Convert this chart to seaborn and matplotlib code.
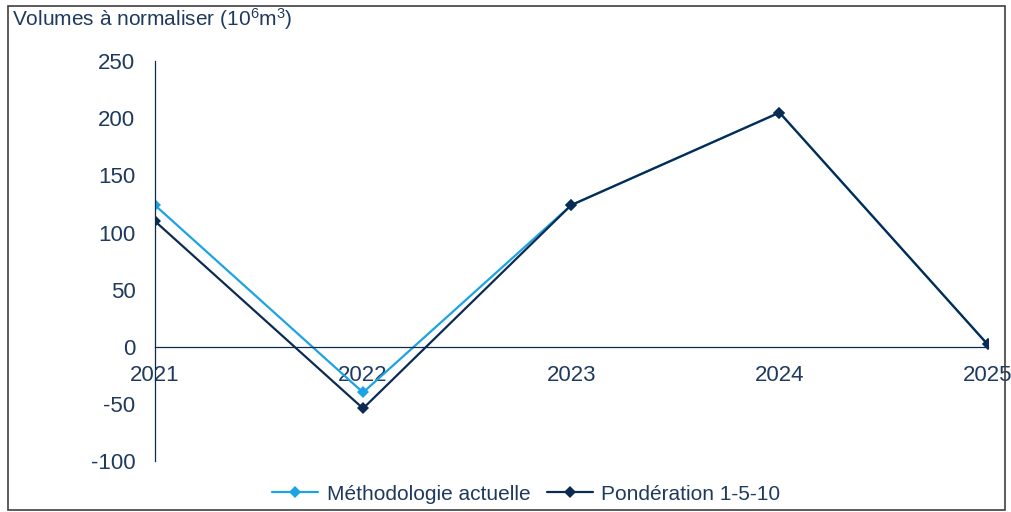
import matplotlib
matplotlib.use("Agg")
import matplotlib.pyplot as plt
import seaborn as sns
import pandas as pd
from matplotlib.patches import Rectangle

years = [2021, 2022, 2023, 2024, 2025]
methodologie_actuelle = [124, -40, 124, 205, 2]
ponderation_1_5_10 = [110, -54, 124, 205, 2]
series_names = ["Méthodologie actuelle", "Pondération 1-5-10"]
y_ticks = [-100, -50, 0, 50, 100, 150, 200, 250]

sns.set_theme(style="white")
plt.rcParams['font.family'] = ['Liberation Sans', 'DejaVu Sans']
plt.rcParams['mathtext.fontset'] = 'custom'
plt.rcParams['mathtext.rm'] = 'Liberation Sans'
plt.rcParams['mathtext.it'] = 'Liberation Sans'
plt.rcParams['axes.unicode_minus'] = False

text_col = "#1F3A5F"
light = "#1CA3E3"
dark = "#0C2B52"

df = pd.DataFrame({
    "year": years * 2,
    "value": methodologie_actuelle + ponderation_1_5_10,
    "serie": [series_names[0]] * len(years) + [series_names[1]] * len(years),
})

fig = plt.figure(figsize=(10.12, 5.12), dpi=100)
ax = fig.add_axes([0.153, 0.0996, 0.823, 0.781])

sns.lineplot(data=df, x="year", y="value", hue="serie", style="serie",
             palette=[light, dark], markers=["D", "D"], dashes=False,
             markersize=6, linewidth=1.6, markeredgewidth=0, ax=ax)

ax.set_xlim(2021, 2025)
ax.set_ylim(-100, 250)
ax.set_yticks(y_ticks)
ax.set_xticks(years)
ax.set_xticklabels([str(y) for y in years])
ax.set_xlabel("")
ax.set_ylabel("")

for s in ["top", "right"]:
    ax.spines[s].set_visible(False)
ax.spines["bottom"].set_position(("data", 0))
ax.spines["bottom"].set_color(dark)
ax.spines["left"].set_color(dark)
ax.spines["bottom"].set_linewidth(0.9)
ax.spines["left"].set_linewidth(0.9)

ax.tick_params(axis="y", direction="out", length=6, width=0.9, color="#888888",
               labelsize=16, labelcolor=text_col, pad=8)
ax.tick_params(axis="x", direction="out", length=4, width=0.9, color=dark,
               labelsize=16, labelcolor=text_col, pad=17)
for lbl in ax.get_xticklabels():
    lbl.set_verticalalignment("center")

ax.get_legend().remove()
handles, labels = ax.get_legend_handles_labels()
fig.legend(handles, labels, loc="center", bbox_to_anchor=(0.52, 0.035), ncol=2,
           frameon=False, fontsize=15, handlelength=2.2, columnspacing=0.8,
           handletextpad=0.4, labelcolor=text_col)

fig.text(0.012, 0.962, r"Volumes à normaliser (10$^6$m$^3$)", fontsize=15,
         color=text_col, ha="left", va="center")

fig.patches.append(Rectangle((0.008, 0.003), 0.985, 0.985, transform=fig.transFigure,
                             fill=False, edgecolor="#404040", linewidth=1.2))

fig.savefig("out.png", dpi=100)
